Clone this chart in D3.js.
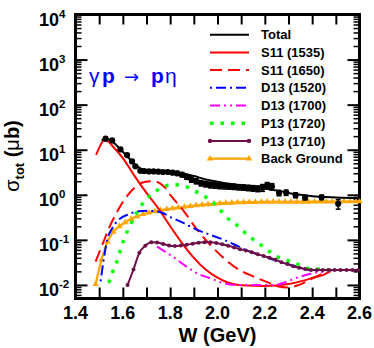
<!DOCTYPE html>
<html><head><meta charset="utf-8">
<script src="https://cdn.jsdelivr.net/npm/d3@7"></script>
<style>
body{margin:0;background:#fff}
svg{display:block}
text{font-family:"Liberation Sans",Arial,Helvetica,sans-serif}
</style>
</head><body>
<svg id="c" width="374" height="348"></svg>
<script>
// ---------- data ----------
const xTickValues = [1.4, 1.6, 1.8, 2.0, 2.2, 2.4, 2.6];
const yExponents = [-2, -1, 0, 1, 2, 3, 4];
const legendLabels = ["Total", "S11 (1535)", "S11 (1650)", "D13 (1520)", "D13 (1700)", "P13 (1720)", "P13 (1710)", "Back Ground"];

const dataW = [1.527,1.555,1.59,1.618,1.639,1.653,1.674,1.69,1.71,1.73,1.75,1.77,1.79,1.81,1.83,1.85,1.87,1.89,1.91,1.93,1.95,1.97,1.99,2.01,2.03,2.05,2.07,2.09,2.11,2.13,2.15,2.17,2.19,2.21,2.23,2.26,2.29,2.33,2.37,2.44,2.51];
const dataV = [17.6,16.1,10.2,7.6,5.5,4.3,3.4,3.35,3.3,3.3,3.25,3.2,3.2,3.1,3.0,2.8,2.5,2.2,2.0,1.82,1.74,1.67,1.62,1.58,1.55,1.53,1.51,1.48,1.46,1.43,1.40,1.37,1.44,1.62,1.52,1.10,1.12,0.98,0.87,0.88,0.63];
const dataErr = [0.6,0.6,0.4,0.3,0.25,0.2,0.2,0.2,0.2,0.2,0.2,0.2,0.2,0.25,0.3,0.3,0.3,0.3,0.25,0.25,0.25,0.25,0.22,0.22,0.2,0.2,0.2,0.2,0.2,0.2,0.2,0.2,0.25,0.25,0.25,0.15,0.15,0.12,0.1,0.1,0.15];

const totalW = [1.51,1.53,1.55,1.58,1.62,1.66,1.69,1.72,1.76,1.80,1.84,1.90,1.95,2.00,2.05,2.10,2.15,2.20,2.25,2.30,2.35,2.40,2.50,2.60];
const totalV = [16,17,16,11.5,7,4.3,3.6,3.45,3.35,3.2,3.05,2.6,2.2,1.95,1.75,1.6,1.48,1.38,1.25,1.1,1.0,0.93,0.87,0.84];

const s11aW = [1.487,1.50,1.52,1.535,1.56,1.60,1.65,1.70,1.75,1.80,1.85,1.90,1.95,2.00,2.05,2.10,2.20,2.30,2.35,2.40,2.45,2.48];
const s11aV = [7.7,11,16,15.5,11.5,6.5,2.6,1.1,0.5,0.2,0.085,0.04,0.022,0.0145,0.011,0.0098,0.0095,0.0105,0.012,0.0142,0.017,0.0205];

const s11bW = [1.485,1.513,1.541,1.569,1.611,1.654,1.696,1.73,1.76,1.78,1.80,1.815,1.858,1.914,1.97,2.027,2.083,2.153,2.21,2.25,2.30,2.34,2.41,2.47];
const s11bV = [0.033,0.077,0.18,0.36,0.84,1.5,1.95,2.0,1.75,1.4,1.0,0.8,0.43,0.167,0.077,0.039,0.023,0.0153,0.0115,0.0095,0.0088,0.0098,0.0148,0.0205];

const d13aW = [1.506,1.52,1.534,1.555,1.583,1.625,1.667,1.71,1.766,1.80,1.82,1.858,1.914,1.97,2.027,2.08,2.125,2.18,2.23,2.287,2.34,2.39];
const d13aV = [0.012,0.039,0.1,0.18,0.28,0.37,0.43,0.44,0.4,0.32,0.29,0.234,0.167,0.129,0.1,0.075,0.058,0.046,0.037,0.03,0.025,0.021];

const d13bW = [1.745,1.773,1.81,1.858,1.914,1.97,2.027,2.083,2.15,2.245,2.294,2.35,2.414,2.47,2.48];
const d13bV = [0.071,0.057,0.043,0.028,0.018,0.014,0.0109,0.010,0.010,0.010,0.0119,0.0153,0.0188,0.0204,0.0212];

const p13aW = [1.541,1.558,1.572,1.59,1.604,1.622,1.65,1.67,1.696,1.73,1.773,1.82,1.865,1.907,1.95,1.985,2.02,2.055,2.09,2.125,2.168,2.21,2.245,2.29,2.337,2.386,2.435,2.478];
const p13aV = [0.011,0.02,0.03,0.06,0.1,0.167,0.33,0.5,0.77,1.09,1.53,1.67,1.53,1.19,0.89,0.65,0.41,0.264,0.198,0.129,0.089,0.06,0.044,0.036,0.029,0.023,0.0223,0.0215];

const p13bW = [1.62,1.645,1.67,1.695,1.72,1.745,1.77,1.795,1.82,1.845,1.87,1.895,1.92,1.945,1.97,1.995,2.02,2.045,2.07,2.095,2.12,2.145,2.17,2.195,2.22,2.245,2.27,2.295,2.32,2.345,2.37,2.395,2.42,2.445,2.47,2.495,2.52,2.545,2.57,2.595];
const p13bV = [0.010,0.022,0.052,0.074,0.088,0.087,0.081,0.075,0.073,0.075,0.078,0.082,0.086,0.089,0.088,0.085,0.080,0.074,0.068,0.062,0.058,0.053,0.048,0.044,0.040,0.036,0.032,0.029,0.026,0.024,0.0225,0.0215,0.0215,0.0215,0.0215,0.0215,0.0215,0.0215,0.0215,0.0215];

const bgW = [1.485,1.51,1.535,1.56,1.585,1.61,1.635,1.66,1.685,1.71,1.735,1.76,1.785,1.81,1.835,1.86,1.885,1.91,1.935,1.96,1.985,2.01,2.035,2.06,2.085,2.11,2.135,2.16,2.185,2.21,2.235,2.26,2.285,2.31,2.335,2.36,2.385,2.41,2.435,2.46,2.485,2.51,2.535,2.56,2.585,2.6];
const bgV = [0.0104,0.036,0.09,0.15,0.2,0.245,0.29,0.33,0.37,0.4,0.43,0.455,0.48,0.5,0.52,0.54,0.56,0.58,0.6,0.615,0.63,0.645,0.655,0.665,0.675,0.68,0.685,0.69,0.695,0.70,0.70,0.70,0.70,0.70,0.70,0.70,0.70,0.705,0.705,0.705,0.705,0.71,0.71,0.71,0.71,0.71];

// ---------- layout ----------
const L = 75.5, R = 359.5, T = 14.5, B = 298.5;
const svg = d3.select("#c");
const x = d3.scaleLinear().domain([1.4, 2.6]).range([L, R]);
const y = d3.scaleLog().domain([0.005, 1e4]).range([B, T]);

const minorY = [];
for (let e = -3; e <= 3; e++) for (let m = 2; m <= 9; m++) { const v = m * Math.pow(10, e); if (v >= 0.005 && v <= 1e4) minorY.push(v); }
const majorY = yExponents.map(e => Math.pow(10, e));
const xTicks01 = d3.range(14, 27).map(d => d / 10);

function styleAxis(g, w) { g.select(".domain").remove(); g.selectAll(".tick line").attr("stroke", "#000").attr("stroke-width", w); g.selectAll("text").remove(); }

svg.append("g").attr("transform", `translate(${L},0)`).call(d3.axisLeft(y).tickValues(majorY).tickSize(-12)).call(g => styleAxis(g, 2));
svg.append("g").attr("transform", `translate(${L},0)`).call(d3.axisLeft(y).tickValues(minorY).tickSize(-6)).call(g => styleAxis(g, 1.5));
svg.append("g").attr("transform", `translate(${R},0)`).call(d3.axisRight(y).tickValues(majorY).tickSize(-12)).call(g => styleAxis(g, 2));
svg.append("g").attr("transform", `translate(${R},0)`).call(d3.axisRight(y).tickValues(minorY).tickSize(-6)).call(g => styleAxis(g, 1.5));
svg.append("g").attr("transform", `translate(0,${B})`).call(d3.axisBottom(x).tickValues(xTicks01).tickSize(-11)).call(g => styleAxis(g, 2));
svg.append("g").attr("transform", `translate(0,${T})`).call(d3.axisTop(x).tickValues(xTicks01).tickSize(-10)).call(g => styleAxis(g, 2));

svg.append("rect").attr("x", L).attr("y", T).attr("width", R - L).attr("height", B - T)
  .attr("fill", "none").attr("stroke", "#000").attr("stroke-width", 3);

// tick labels
svg.append("g").selectAll("text").data(xTickValues).join("text")
  .attr("x", d => x(d)).attr("y", 319).attr("text-anchor", "middle")
  .attr("font-size", 18).attr("font-weight", "bold").text(d => d.toFixed(1));

const yl = svg.append("g").selectAll("text").data(yExponents).join("text")
  .attr("x", 39).attr("y", d => y(Math.pow(10, d)) + 11.5)
  .attr("font-size", 18).attr("font-weight", "bold");
yl.append("tspan").text("10");
yl.append("tspan").attr("font-size", 11.5).attr("dy", -8).text(d => d < 0 ? "-" + (-d) : String(d));

// axis titles
svg.append("text").attr("x", (L + R) / 2).attr("y", 342).attr("text-anchor", "middle")
  .attr("font-size", 20).attr("font-weight", "bold").text("W (GeV)");

const ylab = svg.append("text").attr("transform", "translate(19,156) rotate(-90)")
  .attr("text-anchor", "middle").attr("font-size", 20);
ylab.append("tspan").text("σ");
ylab.append("tspan").attr("font-size", 13).attr("font-weight", "bold").attr("dy", 5).text("tot");
ylab.append("tspan").attr("dy", -5).attr("font-weight", "bold").text(" (");
ylab.append("tspan").text("μ");
ylab.append("tspan").attr("font-weight", "bold").text("b)");

// reaction title
const tt = svg.append("text").attr("y", 83).attr("font-size", 21).attr("fill", "#0000ff");
tt.append("tspan").attr("x", 89).text("γ");
tt.append("tspan").attr("x", 102).attr("font-weight", "bold").text("p");
tt.append("tspan").attr("x", 124).attr("font-size", 18).attr("font-family", "DejaVu Sans").text("→");
tt.append("tspan").attr("x", 151).attr("font-weight", "bold").text("p");
tt.append("tspan").attr("x", 165).text("η");

// ---------- curves ----------
const line = d3.line().x(d => x(d[0])).y(d => y(d[1])).curve(d3.curveMonotoneX);
const zip = (a, b) => a.map((v, i) => [v, b[i]]);

const series = [
  { W: bgW, V: bgV, color: "#ffa500", dash: null, w: 2.2, marker: "tri" },
  { W: s11aW, V: s11aV, color: "#ff0000", dash: null, w: 2 },
  { W: s11bW, V: s11bV, color: "#ff0000", dash: "12,6", w: 2 },
  { W: d13aW, V: d13aV, color: "#0000ff", dash: "2,4,10,4", w: 2 },
  { W: d13bW, V: d13bV, color: "#ff00ff", dash: "10,4,2,4,2,4", w: 2 },
  { W: p13aW, V: p13aV, color: "#00ff00", dash: "3.5,7", w: 3.5 },
  { W: p13bW, V: p13bV, color: "#6b1048", dash: null, w: 2, marker: "circ" },
  { W: totalW, V: totalV, color: "#000000", dash: null, w: 2 }
];

const tri = d3.symbol().type(d3.symbolTriangle).size(18);
series.forEach(s => {
  const pts = zip(s.W, s.V);
  svg.append("path").attr("d", line(pts)).attr("fill", "none").attr("stroke", s.color)
    .attr("stroke-width", s.w).attr("stroke-dasharray", s.dash);
  if (s.marker === "tri") {
    svg.append("g").selectAll("path").data(pts).join("path")
      .attr("transform", d => `translate(${x(d[0])},${y(d[1])})`).attr("d", tri()).attr("fill", s.color);
  } else if (s.marker === "circ") {
    svg.append("g").selectAll("circle").data(pts).join("circle")
      .attr("cx", d => x(d[0])).attr("cy", d => y(d[1])).attr("r", 2).attr("fill", s.color);
  }
});

// data points with error bars
const pts = dataW.map((w, i) => ({ w, v: dataV[i], e: dataErr[i] }));
const eg = svg.append("g").attr("stroke", "#000").attr("stroke-width", 1.5);
pts.forEach(p => {
  eg.append("line").attr("x1", x(p.w)).attr("x2", x(p.w)).attr("y1", y(p.v + p.e)).attr("y2", y(p.v - p.e));
  eg.append("line").attr("x1", x(p.w) - 2.5).attr("x2", x(p.w) + 2.5).attr("y1", y(p.v + p.e)).attr("y2", y(p.v + p.e));
  eg.append("line").attr("x1", x(p.w) - 2.5).attr("x2", x(p.w) + 2.5).attr("y1", y(p.v - p.e)).attr("y2", y(p.v - p.e));
});
svg.append("g").selectAll("circle").data(pts).join("circle")
  .attr("cx", d => x(d.w)).attr("cy", d => y(d.v)).attr("r", 3.1).attr("fill", "#000");

// ---------- legend ----------
const legStyles = [series[7], series[1], series[2], series[3], series[4], series[5], series[6], series[0]];
const lg = svg.append("g");
legendLabels.forEach((lab, i) => {
  const s = legStyles[i];
  const ly = 34.7 + i * 17.7;
  lg.append("line").attr("x1", 210).attr("x2", 249).attr("y1", ly).attr("y2", ly)
    .attr("stroke", s.color).attr("stroke-width", s.w).attr("stroke-dasharray", s.dash);
  if (s.marker === "tri") {
    [210, 249].forEach(px => lg.append("path").attr("transform", `translate(${px},${ly})`).attr("d", tri()).attr("fill", s.color));
  } else if (s.marker === "circ") {
    [210, 249].forEach(px => lg.append("circle").attr("cx", px).attr("cy", ly).attr("r", 2.2).attr("fill", s.color));
  }
  lg.append("text").attr("x", 261).attr("y", ly + 4.6).attr("font-size", 13).attr("font-weight", "bold").text(lab);
});
</script>
</body></html>
